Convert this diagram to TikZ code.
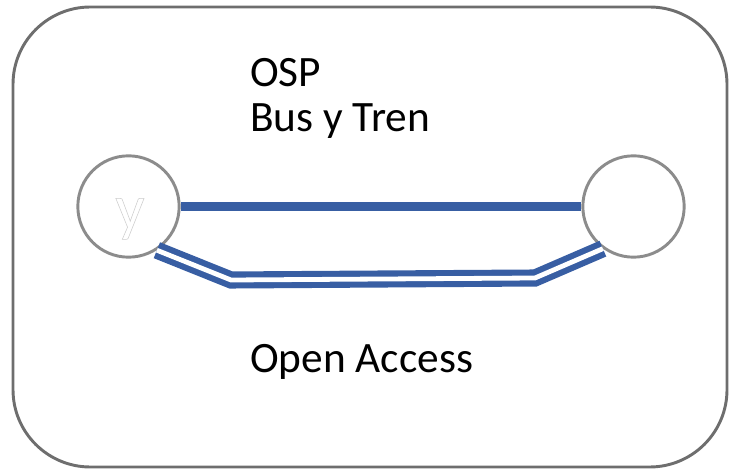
\documentclass[tikz,border=0pt]{standalone}
\usepackage{fontspec}
\setmainfont{Carlito}
\definecolor{frame}{RGB}{110,110,110}
\definecolor{ring}{RGB}{140,140,140}
\definecolor{route}{RGB}{56,94,163}
\begin{document}
\begin{tikzpicture}[x=0.75pt,y=-0.75pt,
  station/.style={circle,draw=ring,line width=2.2pt,minimum size=76pt,inner sep=0pt,fill=white},
  lbl/.style={anchor=base west,inner sep=0pt,font=\fontsize{32.5}{36}\selectfont,text=black}]
\useasboundingbox (0,0) rectangle (741,473);
\draw[frame,line width=2.2pt,rounded corners=58pt] (13,7) rectangle (727,467);
\node[station] (L) at (128.5,206.5) {};
\node[station] (R) at (633.5,206.5) {};
\node[anchor=base,inner sep=0pt] (ly) at (130,229) {\fontsize{48}{48}\selectfont\special{pdf:literal direct 1 Tr 0.4 w 0.8 G}y\special{pdf:literal direct 0 Tr 0 G}};
\draw[route,line width=6.5pt] (L.east) -- (R.west);
\coordinate (a1) at (231,280);
\coordinate (a2) at (535,278);
\draw[route,line width=4.6pt,double=white,double distance=3.6pt] (L.-57) -- (a1) -- (a2) -- (R.-126);
\node[lbl] (osp) at (250,87) {OSP};
\node[lbl] (bus) at (250,132) {Bus y Tren};
\node[lbl] (oa) at (250,372) {Open Access};
\end{tikzpicture}
\end{document}
